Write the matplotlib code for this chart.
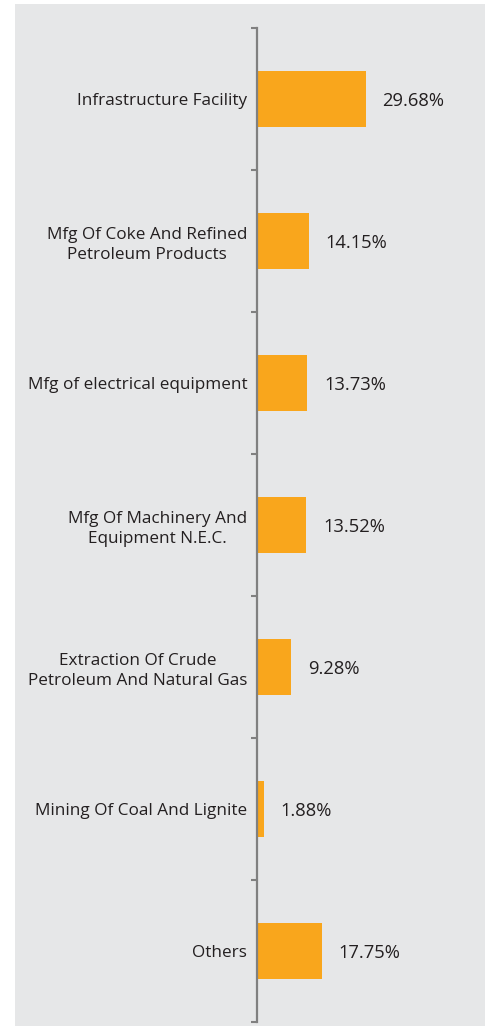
#!/usr/bin/env python3
import numpy as np
import matplotlib
matplotlib.use('Agg')
import matplotlib.pyplot as plt
from matplotlib.patches import Rectangle

plt.rcParams['font.family'] = ['Open Sans', 'DejaVu Sans']

sectors = ['Infrastructure Facility',
           'Mfg Of Coke And Refined\nPetroleum Products',
           'Mfg of electrical equipment',
           'Mfg Of Machinery And\nEquipment N.E.C.',
           'Extraction Of Crude\nPetroleum And Natural Gas',
           'Mining Of Coal And Lignite',
           'Others']
shares = [29.68, 14.15, 13.73, 13.52, 9.28, 1.88, 17.75]
share_labels = ['29.68%', '14.15%', '13.73%', '13.52%', '9.28%', '1.88%', '17.75%']

bar_color = '#f9a61c'
bg_color = '#e6e7e8'
axis_color = '#808080'
text_color = '#231f20'

W, H = 488, 1028
fig = plt.figure(figsize=(W/100, H/100), dpi=100)

# grey panel behind the chart
fig.patches.append(Rectangle((15/W, 1 - 1026/H), 470/W, 1022/H,
                             transform=fig.transFigure, facecolor=bg_color,
                             edgecolor='none', zorder=-5))

ax = fig.add_axes([257/W, 1 - 1022/H, 228/W, 994/H])
ax.patch.set_alpha(0)

y = np.arange(len(sectors))
ax.barh(y, shares, height=0.4, color=bar_color, zorder=2)
ax.set_ylim(len(sectors) - 0.5, -0.5)
ax.set_xlim(0, 62.3)

for yi, v, lab in zip(y, shares, share_labels):
    ax.annotate(lab, (v, yi), xytext=(12, 0), textcoords='offset points',
                va='center_baseline', ha='left', fontsize=13.2, color=text_color)

ax.set_yticks(y)
ax.set_yticklabels(sectors, fontsize=12.3, color=text_color,
                   multialignment='center', linespacing=1.3)
ax.set_yticks(np.arange(len(sectors) + 1) - 0.5, minor=True)
ax.tick_params(axis='y', which='major', length=0, pad=7)
ax.tick_params(axis='y', which='minor', length=4, width=1.5, color=axis_color)
ax.set_xticks([])

for s in ['top', 'right', 'bottom']:
    ax.spines[s].set_visible(False)
ax.spines['left'].set_color(axis_color)
ax.spines['left'].set_linewidth(1.6)

plt.savefig('out.png', dpi=100)
